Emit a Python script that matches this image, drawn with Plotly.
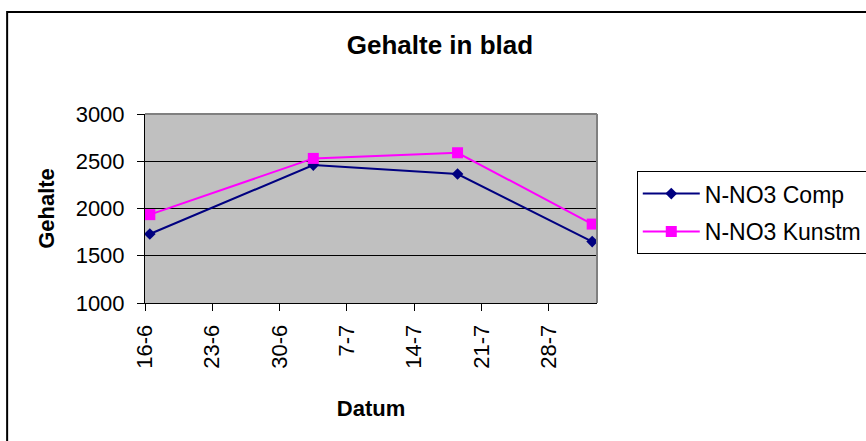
import pandas as pd
import plotly.graph_objects as go

# Meetdata (gehalte in blad)
datums = ["2004-06-16", "2004-07-03", "2004-07-18", "2004-08-01"]
comp = [1730, 2460, 2365, 1650]
kunstm = [1935, 2530, 2590, 1835]

tick_datums = ["2004-06-16", "2004-06-23", "2004-06-30", "2004-07-07",
               "2004-07-14", "2004-07-21", "2004-07-28"]
tick_labels = ["16-6", "23-6", "30-6", "7-7", "14-7", "21-7", "28-7"]

FONT = "Liberation Sans, Arial, sans-serif"

# Excel zet punten midden in de dag
x = pd.to_datetime(datums) + pd.Timedelta(hours=12)

fig = go.Figure()
fig.add_trace(go.Scatter(
    x=x, y=comp, name="N-NO3 Comp", mode="lines+markers", legendgroup="a",
    line=dict(color="#000080", width=2),
    marker=dict(symbol="diamond", size=9, color="#000080"),
))
fig.add_trace(go.Scatter(
    x=x, y=kunstm, name="N-NO3 Kunstm", mode="lines+markers", legendgroup="b",
    line=dict(color="#FF00FF", width=2),
    marker=dict(symbol="square", size=11, color="#FF00FF"),
))

fig.update_layout(
    width=866, height=441,
    margin=dict(l=145, r=269, t=114, b=138, autoexpand=False),
    paper_bgcolor="white", plot_bgcolor="#C0C0C0",
    font=dict(family=FONT, size=22, color="black"),
    title=dict(text="<b>Gehalte in blad</b>", x=0.508, y=0.898,
               xanchor="center", yanchor="middle", font=dict(size=26)),
    showlegend=True,
    legend=dict(x=1.088, y=0.698, xanchor="left", yanchor="top",
                bordercolor="black", borderwidth=1, bgcolor="white",
                font=dict(size=23), itemwidth=57, tracegroupgap=5),
)

fig.update_xaxes(
    type="date", range=["2004-06-16", "2004-08-02"], automargin=False,
    tickvals=pd.to_datetime(tick_datums), ticktext=tick_labels, tickangle=-90,
    ticks="outside", ticklen=7, tickcolor="black", ticklabelstandoff=5,
    showline=True, linecolor="black", linewidth=1, showgrid=False, zeroline=False,
    title=dict(text="<b>Datum</b>", standoff=32, font=dict(size=22)),
)
fig.update_yaxes(
    range=[1000, 3000], dtick=500, tick0=1000, automargin=False,
    ticks="outside", ticklen=7, tickcolor="black", ticklabelstandoff=8,
    showline=True, linecolor="black", linewidth=1,
    showgrid=True, gridcolor="black", gridwidth=1, zeroline=False,
    title=dict(text="<b>Gehalte</b>", standoff=14, font=dict(size=22)),
)

# grijze rand van het tekengebied (boven en rechts)
fig.add_shape(type="line", xref="paper", yref="paper", x0=0, x1=1, y0=1, y1=1,
              line=dict(color="#808080", width=2))
fig.add_shape(type="line", xref="paper", yref="paper", x0=1, x1=1, y0=0, y1=1,
              line=dict(color="#808080", width=2))
# kaderrand van de grafiek
fig.add_shape(type="rect", xref="paper", yref="paper",
              x0=-0.305, x1=2.0, y0=-2.0, y1=1.54,
              line=dict(color="black", width=2), layer="below")

# geen standaard-marge van de pagina, geen modebar
fig.write_html("out.html", config={"displayModeBar": False},
               post_script="document.body.style.margin='0px';")
